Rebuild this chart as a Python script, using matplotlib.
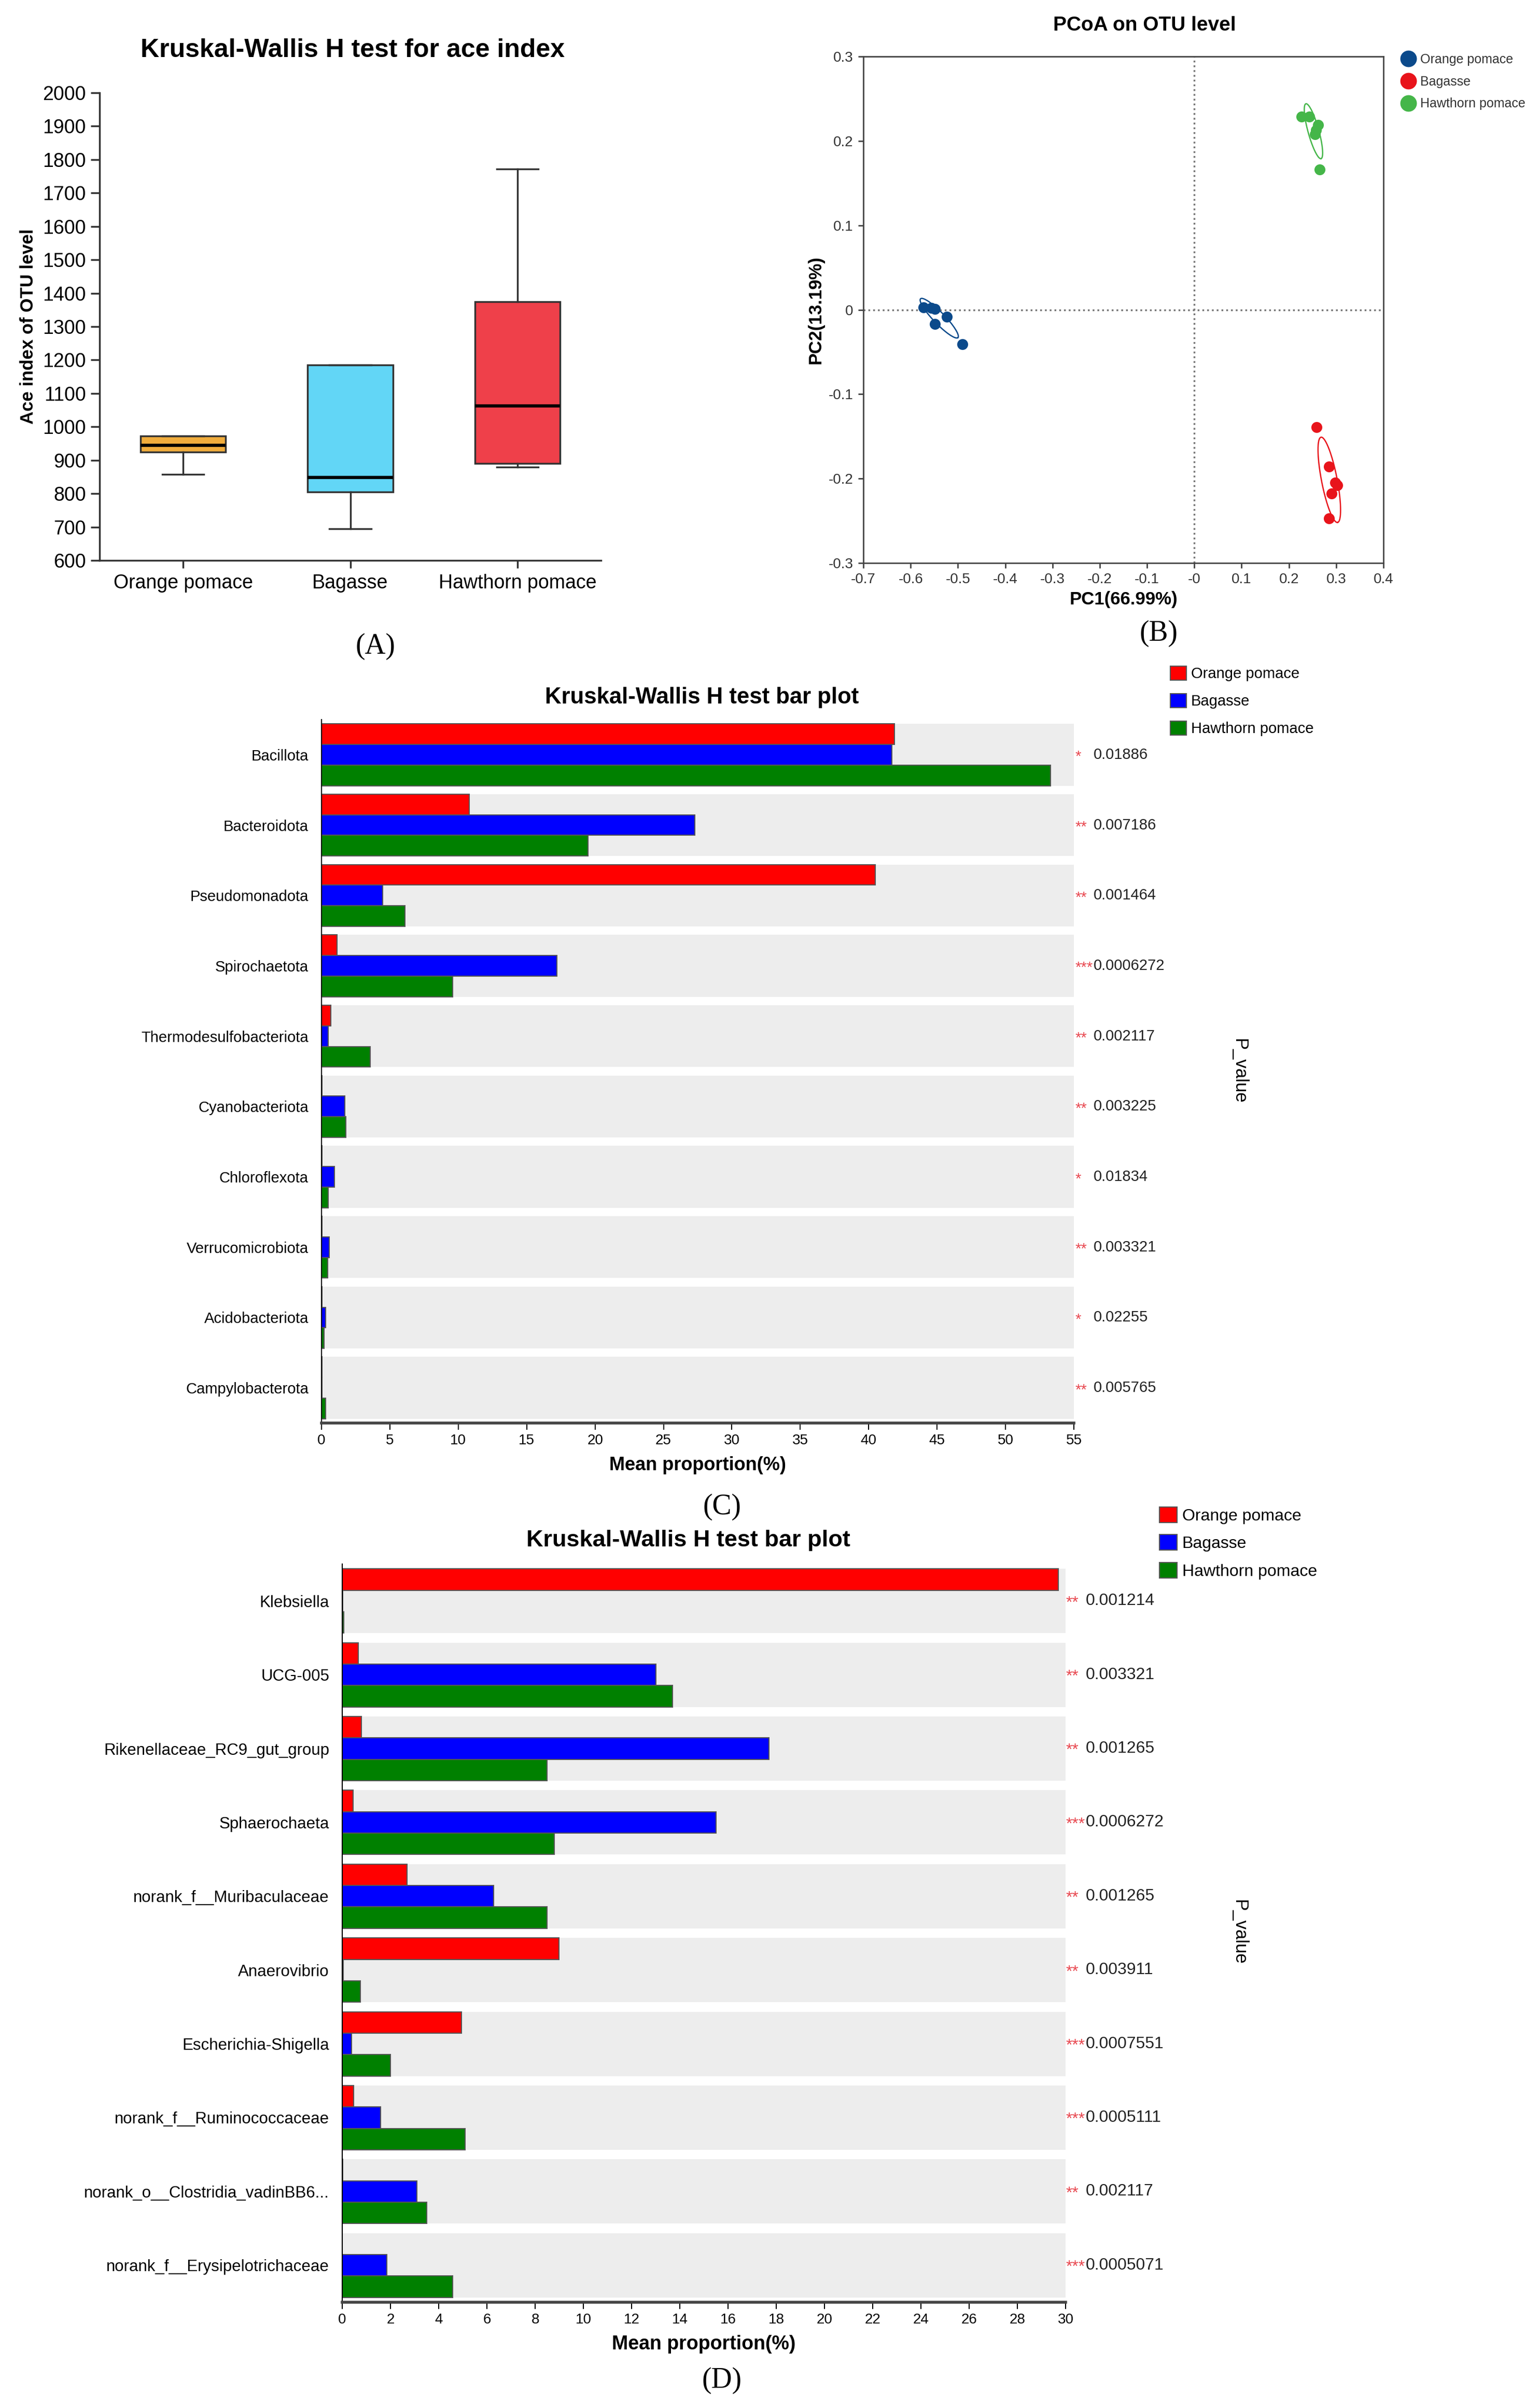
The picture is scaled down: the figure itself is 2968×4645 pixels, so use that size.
import numpy as np
import matplotlib.pyplot as plt
import matplotlib.transforms as mtransforms
from matplotlib.lines import Line2D

W, H = 2968, 4645
DPI = 100

plt.rcParams['font.family'] = ['Liberation Sans', 'DejaVu Sans']

# ---- (A) ace index boxplot ----
ace_groups = ['Orange pomace', 'Bagasse', 'Hawthorn pomace']
ace_low = [857, 695, 880]
ace_q1 = [925, 805, 890]
ace_med = [945, 848, 1063]
ace_q3 = [972, 1185, 1375]
ace_high = [972, 1185, 1772]
ace_colors = ['#F0AC3C', '#62D6F6', '#EF404A']

# ---- (B) PCoA ----
pcoa_groups = ['Orange pomace', 'Bagasse', 'Hawthorn pomace']
pcoa_colors = ['#0B4A8B', '#E8141B', '#45B649']
pc1_orange = [-0.573, -0.556, -0.549, -0.549, -0.523, -0.490]
pc2_orange = [0.003, 0.002, 0.001, -0.017, -0.008, -0.041]
pc1_bagasse = [0.258, 0.285, 0.302, 0.298, 0.290, 0.285]
pc2_bagasse = [-0.139, -0.186, -0.208, -0.205, -0.218, -0.247]
pc1_hawthorn = [0.227, 0.243, 0.262, 0.257, 0.255, 0.265]
pc2_hawthorn = [0.229, 0.229, 0.219, 0.213, 0.208, 0.166]
# ellipse major-axis end points and minor/major ratio
ell_orange = [(-0.579, 0.013), (-0.500, -0.033), 0.21]
ell_bagasse = [(0.268, -0.151), (0.303, -0.252), 0.18]
ell_hawthorn = [(0.236, 0.244), (0.268, 0.179), 0.19]

# ---- (C) phylum level ----
bar_groups = ['Orange pomace', 'Bagasse', 'Hawthorn pomace']
bar_colors = ['#FF0000', '#0000FF', '#008000']
phylum = ['Bacillota', 'Bacteroidota', 'Pseudomonadota', 'Spirochaetota',
          'Thermodesulfobacteriota', 'Cyanobacteriota', 'Chloroflexota',
          'Verrucomicrobiota', 'Acidobacteriota', 'Campylobacterota']
phy_orange = [41.9, 10.8, 40.5, 1.13, 0.7, 0.03, 0.03, 0.02, 0.02, 0.02]
phy_bagasse = [41.7, 27.3, 4.47, 17.2, 0.48, 1.7, 0.95, 0.57, 0.3, 0.05]
phy_hawthorn = [53.3, 19.5, 6.1, 9.6, 3.56, 1.78, 0.5, 0.45, 0.2, 0.3]
phy_p = ['0.01886', '0.007186', '0.001464', '0.0006272', '0.002117',
         '0.003225', '0.01834', '0.003321', '0.02255', '0.005765']
phy_sig = ['*', '**', '**', '***', '**', '**', '*', '**', '*', '**']

# ---- (D) genus level ----
genus = ['Klebsiella', 'UCG-005', 'Rikenellaceae_RC9_gut_group', 'Sphaerochaeta',
         'norank_f__Muribaculaceae', 'Anaerovibrio', 'Escherichia-Shigella',
         'norank_f__Ruminococcaceae', 'norank_o__Clostridia_vadinBB6...',
         'norank_f__Erysipelotrichaceae']
gen_orange = [29.7, 0.67, 0.79, 0.46, 2.68, 8.98, 4.95, 0.47, 0.03, 0.01]
gen_bagasse = [0.02, 13.0, 17.7, 15.5, 6.28, 0.05, 0.39, 1.6, 3.1, 1.85]
gen_hawthorn = [0.07, 13.7, 8.5, 8.8, 8.49, 0.75, 2.0, 5.1, 3.5, 4.58]
gen_p = ['0.001214', '0.003321', '0.001265', '0.0006272', '0.001265',
         '0.003911', '0.0007551', '0.0005111', '0.002117', '0.0005071']
gen_sig = ['**', '**', '**', '***', '**', '**', '***', '***', '**', '***']


fig = plt.figure(figsize=(W / DPI, H / DPI), dpi=DPI)


def axes_px(left, top, right, bottom):
    return fig.add_axes([left / W, 1 - bottom / H, (right - left) / W, (bottom - top) / H])


def text_px(x, y, s, **kw):
    fig.text(x / W, 1 - y / H, s, **kw)


# ================= (A) =================
ax = axes_px(192, 179, 1159, 1081)
stats = []
for name, lo, q1, med, q3, hi in zip(ace_groups, ace_low, ace_q1, ace_med, ace_q3, ace_high):
    stats.append(dict(label=name, whislo=lo, q1=q1, med=med, q3=q3, whishi=hi, fliers=[]))
bp = ax.bxp(stats, positions=[1, 2, 3], widths=0.51, patch_artist=True, showfliers=False,
            capwidths=0.25,
            boxprops=dict(edgecolor='#333333', linewidth=2.5),
            whiskerprops=dict(color='#333333', linewidth=2.5),
            capprops=dict(color='#333333', linewidth=2.5),
            medianprops=dict(color='black', linewidth=4.5))
for box, c in zip(bp['boxes'], ace_colors):
    box.set_facecolor(c)
ax.set_xlim(0.5, 3.5)
ax.set_ylim(600, 2000)
ax.set_yticks(np.arange(600, 2001, 100))
ax.set_xticks([1, 2, 3])
ax.set_xticklabels(ace_groups)
for s in ['top', 'right']:
    ax.spines[s].set_visible(False)
for s in ['left', 'bottom']:
    ax.spines[s].set_linewidth(2.5)
    ax.spines[s].set_color('#333333')
ax.tick_params(axis='y', length=12, width=2.5, color='#333333', labelsize=27, pad=7)
ax.tick_params(axis='x', length=11, width=2.5, color='#333333', labelsize=27, pad=8)
ax.set_ylabel('Ace index of OTU level', fontsize=25, fontweight='bold', labelpad=8)
text_px(680, 97, 'Kruskal-Wallis H test for ace index', fontsize=36, fontweight='bold',
        ha='center', va='center')

# ================= (B) =================
ax = axes_px(1665, 109, 2668, 1086)
ax.set_xlim(-0.7, 0.4)
ax.set_ylim(-0.3, 0.3)
ax.axvline(0, color='#777777', linestyle=':', linewidth=2.5, zorder=1)
ax.axhline(0, color='#777777', linestyle=':', linewidth=2.5, zorder=1)
pts = [(pc1_orange, pc2_orange), (pc1_bagasse, pc2_bagasse), (pc1_hawthorn, pc2_hawthorn)]
ells = [ell_orange, ell_bagasse, ell_hawthorn]
for (xs, ys), el, c, name in zip(pts, ells, pcoa_colors, pcoa_groups):
    ax.scatter(xs, ys, s=230, color=c, zorder=3, linewidths=0, label=name)
    # ellipse built in display space, so the minor axis stays perpendicular on screen
    p1 = ax.transData.transform(el[0])
    p2 = ax.transData.transform(el[1])
    cen = (p1 + p2) / 2
    u = (p2 - p1) / 2
    v = np.array([-u[1], u[0]]) * el[2]
    t = np.linspace(0, 2 * np.pi, 200)
    ring = cen + np.outer(np.cos(t), u) + np.outer(np.sin(t), v)
    ring = ax.transData.inverted().transform(ring)
    ax.plot(ring[:, 0], ring[:, 1], color=c, linewidth=1.8, zorder=2)
xt = np.round(np.arange(-0.7, 0.41, 0.1), 1)
yt = np.round(np.arange(-0.3, 0.31, 0.1), 1)
ax.set_xticks(xt)
ax.set_xticklabels(['%g' % v for v in xt])
ax.set_yticks(yt)
ax.set_yticklabels(['%g' % v for v in yt])
for s in ax.spines.values():
    s.set_linewidth(2)
    s.set_color('#444444')
ax.tick_params(length=7, width=2, color='#444444', labelsize=20, labelcolor='#333333', pad=7)
ax.set_xlabel('PC1(66.99%)', fontsize=25, fontweight='bold', labelpad=6)
ax.set_ylabel('PC2(13.19%)', fontsize=25, fontweight='bold', labelpad=6)
text_px(2207, 49, 'PCoA on OTU level', fontsize=28, fontweight='bold', ha='center', va='center')
handles = [Line2D([], [], linestyle='none', marker='o', markersize=22, color=c, label=n)
           for c, n in zip(pcoa_colors, pcoa_groups)]
ax.legend(handles=handles, loc='upper left', bbox_to_anchor=(2700 / W, 1 - 103 / H),
          bbox_transform=fig.transFigure, frameon=False, fontsize=18, borderpad=0,
          borderaxespad=0, handlelength=1.25, handletextpad=0.3, labelspacing=0.75,
          labelcolor='#333333')


# ================= (C) and (D) =================
def bar_panel(rect, cats, series, pvals, sigs, xmax, xstep, lab_fs, p_fs, star_x, num_x,
              leg_anchor, leg_fs, leg_space, band, xlab_fs):
    ax = axes_px(*rect)
    n = len(cats)
    y = np.arange(n)
    h = band / 3
    for i in y:
        ax.axhspan(i - band / 2, i + band / 2, color='#EDEDED', linewidth=0, zorder=0)
    for k, (vals, name, c) in enumerate(zip(series, bar_groups, bar_colors)):
        ax.barh(y + (k - 1) * h, vals, height=h, color=c, edgecolor='#555555',
                linewidth=1.5, label=name, zorder=2)
    ax.set_ylim(n - 0.5, -0.5)
    ax.set_xlim(0, xmax)
    ax.set_xticks(np.arange(0, xmax + 0.1, xstep))
    ax.set_yticks(y)
    ax.set_yticklabels(cats, fontsize=lab_fs)
    ax.tick_params(axis='y', length=0, pad=18)
    ax.tick_params(axis='x', length=9, width=1.5, labelsize=20, pad=6)
    for s in ['top', 'right']:
        ax.spines[s].set_visible(False)
    ax.spines['left'].set_linewidth(1.5)
    ax.spines['bottom'].set_linewidth(4)
    ax.spines['bottom'].set_color('#444444')
    ax.set_xlabel('Mean proportion(%)', fontsize=xlab_fs, fontweight='bold', labelpad=12)
    tr = mtransforms.blended_transform_factory(ax.transAxes, ax.transData)
    for i, (p, sg) in enumerate(zip(pvals, sigs)):
        ax.text(star_x, i + 0.03, sg, color='#E8474F', fontsize=p_fs, ha='left', va='center',
                transform=tr, clip_on=False)
        ax.text(num_x, i, p, color='#222222', fontsize=p_fs, ha='left', va='center',
                transform=tr, clip_on=False)
    ax.legend(loc='upper left', bbox_to_anchor=leg_anchor, bbox_transform=fig.transFigure,
              frameon=False, fontsize=leg_fs, borderpad=0, borderaxespad=0,
              handlelength=1.07, handleheight=1.05, handletextpad=0.3,
              labelspacing=leg_space)
    return ax


bar_panel((620, 1388, 2071, 2745), phylum, [phy_orange, phy_bagasse, phy_hawthorn],
          phy_p, phy_sig, 55, 5, 21, 21, 1.0015, 1.026,
          (2257 / W, 1 - 1285 / H), 21, 0.8, 0.88, 26)
text_px(1354, 1346, 'Kruskal-Wallis H test bar plot', fontsize=31.5, fontweight='bold',
        ha='center', va='center')
text_px(2390, 2066, 'P_value', fontsize=25, rotation=270, ha='center', va='center')

bar_panel((660, 3017, 2055, 4441), genus, [gen_orange, gen_bagasse, gen_hawthorn],
          gen_p, gen_sig, 30, 2, 22.5, 23, 1.0007, 1.028,
          (2236 / W, 1 - 2907 / H), 23, 0.65, 0.87, 27)
text_px(1327, 2971, 'Kruskal-Wallis H test bar plot', fontsize=32.5, fontweight='bold',
        ha='center', va='center')
text_px(2390, 3727, 'P_value', fontsize=25, rotation=270, ha='center', va='center')

# panel letters
for x, y, s in [(724, 1247, '(A)'), (2234, 1222, '(B)'), (1392, 2907, '(C)'), (1392, 4592, '(D)')]:
    text_px(x, y, s, fontsize=40, family='Liberation Serif', ha='center', va='center')

fig.savefig('out.png', dpi=DPI)
